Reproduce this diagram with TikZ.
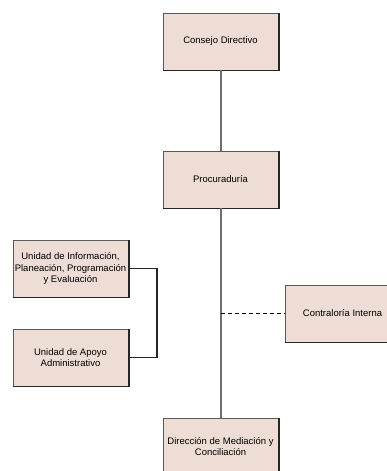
\documentclass[tikz,border=0pt]{standalone}
\usepackage{fontspec}
\setmainfont{Liberation Sans}
\definecolor{boxfill}{HTML}{EDDDD4}
\definecolor{boxedge}{HTML}{5A5A5A}
\definecolor{mainline}{HTML}{6E6E6E}
\begin{document}
\begin{tikzpicture}[x=1pt,y=1pt,
  orgbox/.style={rectangle, fill=boxfill, draw=boxedge, line width=0.7pt,
    minimum width=115pt, minimum height=57pt, inner sep=0.5pt, align=center,
    font=\fontsize{9.5}{11.2}\selectfont},
  shadowedge/.style={draw=black!85, line width=1.4pt},
  trunk/.style={draw=mainline, line width=2pt},
  bracket/.style={draw=black!85, line width=1.2pt},
  dashlink/.style={draw=black, line width=1pt, dash pattern=on 4pt off 3pt}]
\useasboundingbox (0,0) rectangle (387,-471);
\clip (0,0) rectangle (387,-471);
\node[orgbox] (cd) at (220.5,-41.5) {Consejo Directivo};
\node[orgbox] (pr) at (220.5,-179.5) {Procuraduría};
\node[orgbox] (ui) at (70.5,-268.5) {Unidad de Información,\\Planeación, Programación\\y Evaluación};
\node[orgbox] (ua) at (70.5,-357.5) {Unidad de Apoyo\\Administrativo};
\node[orgbox] (ci) at (342.5,-313.5) {Contraloría Interna};
\node[orgbox] (dm) at (220.5,-446.5) {Dirección de Mediación y\\Conciliación};
\foreach \n in {cd,pr,ui,ua,ci,dm}
  \draw[shadowedge] ([xshift=0.5pt]\n.south west) -- ([xshift=0.5pt]\n.south east) -- ([xshift=0.5pt]\n.north east);
\coordinate (br) at (157,0);
\coordinate (tr) at (pr.south |- ci.west);
\draw[trunk] (cd.south) -- (pr.north);
\draw[trunk] (pr.south) -- (dm.north);
\draw[bracket] (ui.east) -- (ui.east -| br) -- (ua.east -| br) -- (ua.east);
\draw[dashlink] (tr) -- (ci.west);
\end{tikzpicture}
\end{document}
